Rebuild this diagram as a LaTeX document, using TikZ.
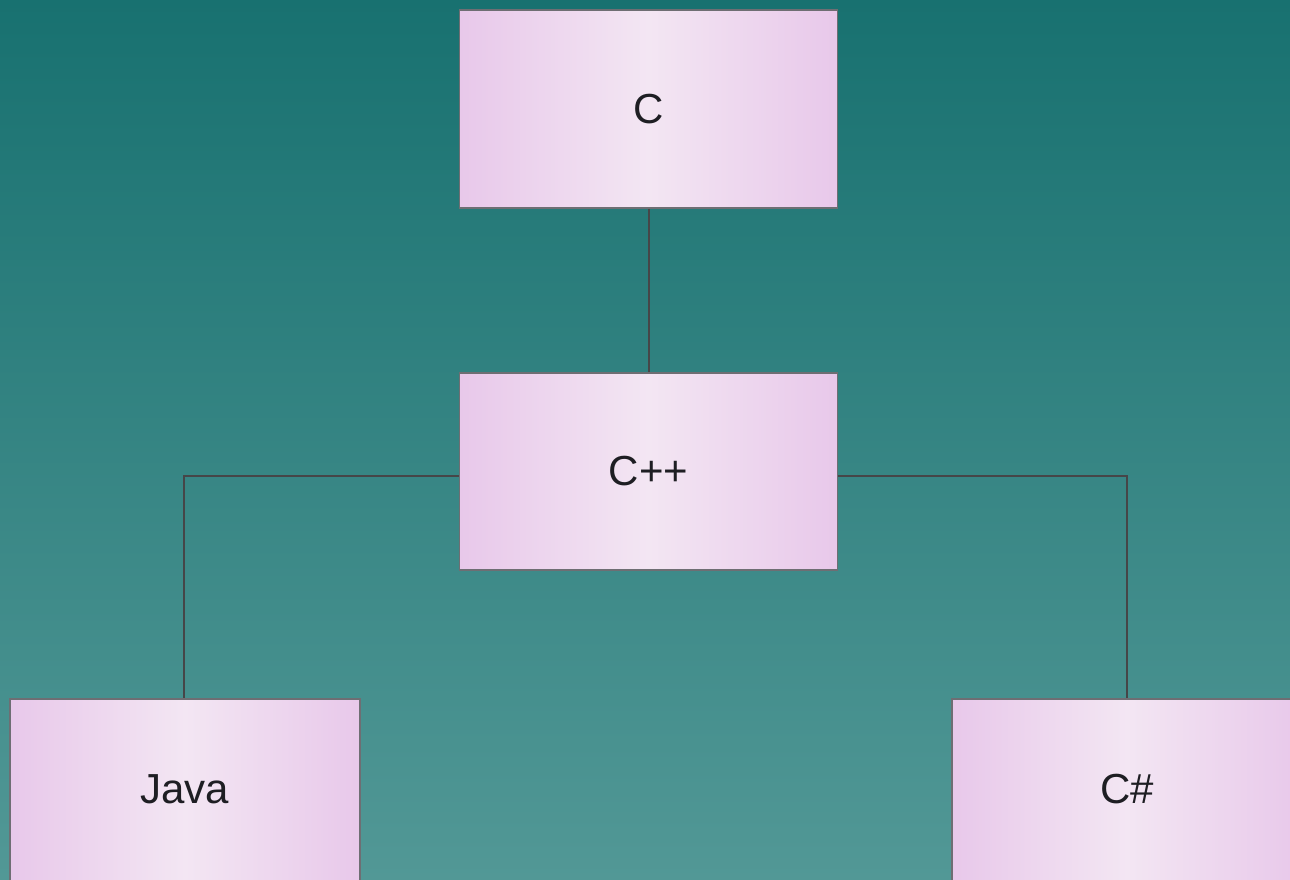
\documentclass[tikz,border=0pt]{standalone}
\usepackage{fontspec}
\setmainfont{Liberation Sans}
\begin{document}
\begin{tikzpicture}[x=1pt,y=-1pt,
  box/.style={draw=boxline, line width=1.5pt, rectangle, inner sep=0pt,
    left color=boxedge, right color=boxedge, middle color=boxmid,
    text=textcol, font=\fontsize{42}{50}\selectfont},
  link/.style={draw=linkcol, line width=2pt}]
\definecolor{bgtop}{RGB}{24,113,112}
\definecolor{bgbot}{RGB}{82,152,150}
\definecolor{boxedge}{RGB}{232,200,234}
\definecolor{boxmid}{RGB}{243,230,243}
\definecolor{boxline}{RGB}{110,110,115}
\definecolor{linkcol}{RGB}{70,70,72}
\definecolor{textcol}{RGB}{30,30,35}
\clip (0,0) rectangle (1290,880);
\shade[top color=bgtop, bottom color=bgbot] (0,0) rectangle (1290,880);
\node[box, minimum width=378pt, minimum height=198pt] (c) at (648.5,109) {\raisebox{1pt}{C}};
\node[box, minimum width=378pt, minimum height=197pt] (cpp) at (648.5,471.5) {\raisebox{1pt}{C++}};
\node[box, minimum width=350pt, minimum height=186pt] (java) at (185,792) {\raisebox{6pt}{Java}};
\node[box, minimum width=350pt, minimum height=186pt] (cs) at (1127,792) {\raisebox{6pt}{C\#}};
\coordinate (jl) at (184,476);
\coordinate (cr) at (1127,476);
\draw[link] (c.south) -- (cpp.north);
\draw[link] (cpp.west |- jl) -- (jl) -- (jl |- java.north);
\draw[link] (cpp.east |- cr) -- (cr) -- (cr |- cs.north);
\end{tikzpicture}
\end{document}
